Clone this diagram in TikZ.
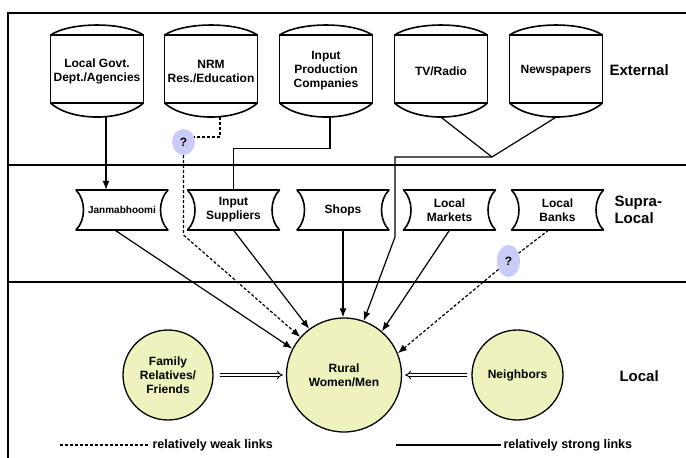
\documentclass[tikz,border=0pt]{standalone}
\usepackage{fontspec}
\setmainfont{Liberation Sans}
\usetikzlibrary{arrows.meta,shapes.geometric}
\definecolor{actorfill}{HTML}{EEF2BE}
\definecolor{queryfill}{HTML}{CACCF8}
\tikzset{
  outline/.style={line width=1.6pt, line join=round},
  rule/.style={line width=1.2pt},
  extbox/.style={minimum width=93pt, minimum height=92pt, inner sep=0pt, align=center,
    font=\bfseries\fontsize{12}{14}\selectfont},
  supbox/.style={minimum width=92pt, minimum height=40pt, inner sep=0pt, align=center,
    font=\bfseries\fontsize{12}{14}\selectfont},
  actor/.style={ellipse, draw, line width=1.3pt, fill=actorfill, inner sep=0pt, align=center,
    font=\bfseries\fontsize{12}{14}\selectfont},
  query/.style={ellipse, fill=queryfill, minimum width=23pt, inner sep=0pt,
    font=\bfseries\fontsize{12}{14}\selectfont},
  level/.style={anchor=west, align=left, font=\bfseries\fontsize{15}{17}\selectfont},
  legendtext/.style={anchor=west, inner sep=2pt, font=\bfseries\fontsize{12.5}{14}\selectfont},
  plain/.style={line width=1.2pt},
  strong/.style={plain, -{Latex[length=9pt,width=7pt]}},
  weak/.style={strong, dash pattern=on 3pt off 2pt},
  twin/.style={line width=0.9pt, double, double distance=2.2pt, -{Implies}},
}
\newcommand{\extnode}[3]{%
  \node[extbox] (#1) at (#2,71) {#3};
  \draw[outline] (#2-46.5,35) rectangle (#2+46.5,103);
  \draw[outline] (#2-46.5,35) .. controls (#2-26,21.7) and (#2+26,21.7) .. (#2+46.5,35);
  \draw[outline] (#2-46.5,103) .. controls (#2-26,121.7) and (#2+26,121.7) .. (#2+46.5,103);
}
\newcommand{\supnode}[3]{%
  \node[supbox] (#1) at (#2,210) {#3};
  \draw[outline] (#2-46,190) -- (#2+46,190)
    .. controls (#2+36,200) and (#2+36,220) .. (#2+46,230) -- (#2-46,230)
    .. controls (#2-36,220) and (#2-36,200) .. (#2-46,190) -- cycle;
}
\begin{document}
\begin{tikzpicture}[x=1pt, y=-1pt]
  \useasboundingbox (0,0) rectangle (686,458);
  \draw[rule] (8,458) -- (8,13) -- (686,13);
  \draw[rule] (8,165) -- (686,165);
  \draw[rule] (8,282) -- (686,282);

  \extnode{govt}{97}{Local Govt.\\Dept./Agencies}
  \extnode{nrm}{211}{NRM\\Res./Education}
  \extnode{inprod}{326}{Input\\Production\\Companies}
  \extnode{tv}{441}{TV/Radio}
  \extnode{news}{556}{Newspapers}

  \supnode{janma}{122}{\fontsize{10}{12}\selectfont Janmabhoomi}
  \supnode{suppliers}{233.5}{Input\\Suppliers}
  \supnode{shops}{343}{Shops}
  \supnode{markets}{449.5}{Local\\Markets}
  \supnode{banks}{557.5}{Local\\Banks}

  \node[actor, minimum width=90pt, minimum height=90pt] (family) at (168,375) {Family\\Relatives/\\Friends};
  \node[actor, minimum width=115pt, minimum height=114pt] (rural) at (344,375) {Rural\\Women/Men};
  \node[actor, minimum width=91pt, minimum height=90pt] (neighbors) at (517.5,375) {Neighbors};

  \node[query, minimum height=26pt] (q1) at (183.5,142) {?};
  \node[query, minimum height=32pt] (q2) at (508.5,261) {?};

  \node[level] (external) at (606,70) {External};
  \node[level] (supralocal) at (611,210) {Supra-\\Local};
  \node[level] (local) at (616,376) {Local};

  \coordinate (govtout) at ([xshift=9pt]govt.south);
  \coordinate (nrmout) at ([xshift=9pt]nrm.south);
  \coordinate (inprodout) at ([xshift=4pt]inprod.south);
  \coordinate (mediajoin) at (492,157);
  \coordinate (mediabend) at (395,237);
  \coordinate (q1bend) at (183.5,235);
  \coordinate (weakstart) at (60,445);
  \coordinate (weakend) at (150,445);
  \coordinate (strongstart) at (396,445);
  \coordinate (strongend) at (501,445);

  \begin{scope}
    \draw[strong] (govtout) to (govtout |- janma.north);
    \draw[weak, -] (nrmout) |- (q1.25);
    \draw[weak] (q1.south) -- (q1bend) -- (rural.139);
    \draw[plain] (inprodout) -- ++(0,31) -| (suppliers.north);
    \draw[plain] (tv.south) -- (mediajoin) -- (news.south);
    \draw[strong] (mediajoin) -| (mediabend) -- (rural.70);
    \draw[strong] ([xshift=-7pt]janma.south) to (rural.153);
    \draw[strong] (suppliers.south) to (rural.127);
    \draw[strong] (shops.south) to (shops.south |- rural.north);
    \draw[strong] (markets.south) to (rural.49);
    \draw[weak, -] ([xshift=-9pt]banks.south) to (q2);
    \draw[weak] (q2) to (rural.22);
    \draw[twin, shorten <=6pt, shorten >=3pt] (family) to (rural);
    \draw[twin, shorten <=4pt, shorten >=3pt] (neighbors) to (rural);
  \end{scope}

  \draw[plain, dash pattern=on 3pt off 2pt] (weakstart) -- (weakend)
    node[legendtext] (weaklabel) {relatively weak links};
  \draw[plain] (strongstart) -- (strongend)
    node[legendtext] (stronglabel) {relatively strong links};
\end{tikzpicture}
\end{document}
